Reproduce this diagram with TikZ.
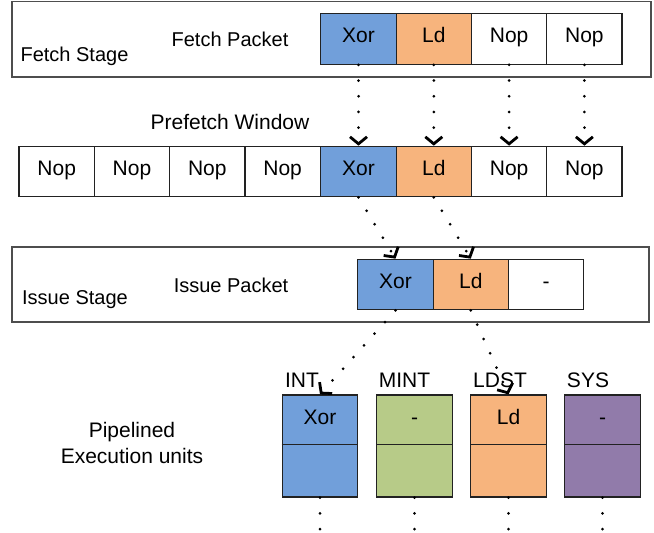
\documentclass[tikz,border=0pt]{standalone}
\usepackage{fontspec}
\setmainfont{Liberation Sans}
\usetikzlibrary{arrows.meta}

\definecolor{xorblue}{HTML}{719FDA}
\definecolor{ldorange}{HTML}{F7B47D}
\definecolor{mintgreen}{HTML}{B7CB88}
\definecolor{syspurple}{HTML}{917BAA}
\definecolor{edge}{HTML}{222222}

\tikzset{
  every node/.style={font=\fontsize{20}{26}\selectfont, inner sep=0pt},
  big/.style={font=\fontsize{21}{26}\selectfont},
  stage/.style={draw=edge!80, line width=1.2pt},
  cell/.style={draw=edge, line width=1.2pt, minimum width=75.3pt, minimum height=50.5pt,
               text height=0.716em, text depth=0pt, fill=white, big},
  unitbox/.style={draw=edge, line width=1.2pt, minimum width=75.5pt, minimum height=102pt},
  unittext/.style={text height=0.716em, text depth=0pt, big},
  label/.style={anchor=base},
  flow/.style={line width=3pt, line cap=round, dash pattern=on 0pt off 15.7pt,
               -{Straight Barb[length=7pt,width=17pt,line width=2.8pt]}},
  trail/.style={line width=3pt, line cap=round, dash pattern=on 0pt off 15.7pt},
}

\begin{document}
\begin{tikzpicture}[x=1pt, y=-1pt]
  \useasboundingbox (0,0) rectangle (654,533);

  % ---- fetch stage ----
  \draw[stage] (12,1.5) rectangle (651,77);
  \node[label] (fstage) at (74.5,61) {Fetch Stage};
  \node[label] (fpacket) at (230,46) {Fetch Packet};
  \node[cell, fill=xorblue]  (f1) at (358.5,39) {Xor};
  \node[cell, fill=ldorange] (f2) at (433.8,39) {Ld};
  \node[cell]                (f3) at (509.1,39) {Nop};
  \node[cell]                (f4) at (584.4,39) {Nop};

  % ---- prefetch window ----
  \node[label, big] (pwin) at (230,129) {Prefetch Window};
  \node[cell] (p1) at (56.7,171.5) {Nop};
  \node[cell] (p2) at (132.0,171.5) {Nop};
  \node[cell] (p3) at (207.3,171.5) {Nop};
  \node[cell] (p4) at (282.6,171.5) {Nop};
  \node[cell, fill=xorblue]  (p5) at (358.5,171.5) {Xor};
  \node[cell, fill=ldorange] (p6) at (433.8,171.5) {Ld};
  \node[cell] (p7) at (509.1,171.5) {Nop};
  \node[cell] (p8) at (584.4,171.5) {Nop};

  % ---- issue stage ----
  \draw[stage] (12,247) rectangle (649,322);
  \node[label] (istage) at (75,304) {Issue Stage};
  \node[label] (ipacket) at (231,292) {Issue Packet};
  \node[cell, fill=xorblue]  (i1) at (395.5,284.5) {Xor};
  \node[cell, fill=ldorange] (i2) at (470.8,284.5) {Ld};
  \node[cell]                (i3) at (546.1,284.5) {-};

  % ---- execution units ----
  \node[align=center, big] (pipe) at (132,442.7) {Pipelined\\Execution units};

  \node[label, big] (lint)  at (302,387) {INT};
  \node[label, big] (lmint) at (404.5,387) {MINT};
  \node[label, big] (lldst) at (500,387) {LDST};
  \node[label, big] (lsys)  at (588,387) {SYS};

  \node[unitbox, fill=xorblue]    (uint)  at (320,446) {};
  \node[unitbox, fill=mintgreen]  (umint) at (414.5,446) {};
  \node[unitbox, fill=ldorange]   (uldst) at (508.5,446) {};
  \node[unitbox, fill=syspurple]  (usys)  at (602.5,446) {};

  \foreach \u in {uint,umint,uldst,usys}
    \draw[line width=1.2pt, draw=edge] (\u.north west) ++(0,50) -- ++(75.5,0);

  \node[unittext] (tint)  at (320,420.5) {Xor};
  \node[unittext] (tmint) at (414.5,420.5) {-};
  \node[unittext] (tldst) at (508.5,420.5) {Ld};
  \node[unittext] (tsys)  at (602.5,420.5) {-};

  % ---- dotted transfers ----
  \foreach \a/\b in {f1/p5,f2/p6,f3/p7,f4/p8}
    \draw[flow] (\a.south) -- (\b.north);
  \draw[flow] (p5.south) -- (i1.north);
  \draw[flow] (p6.south) -- (i2.north);
  \draw[flow] (i1.south) -- (uint.north);
  \draw[flow] (i2.south) -- (uldst.north);

  % pipeline continues below each unit
  \foreach \u in {uint,umint,uldst,usys}{
    \coordinate (\u-end) at ([yshift=-33pt]\u.south);
    \draw[trail] (\u.south) -- (\u-end);
  }
\end{tikzpicture}
\end{document}
